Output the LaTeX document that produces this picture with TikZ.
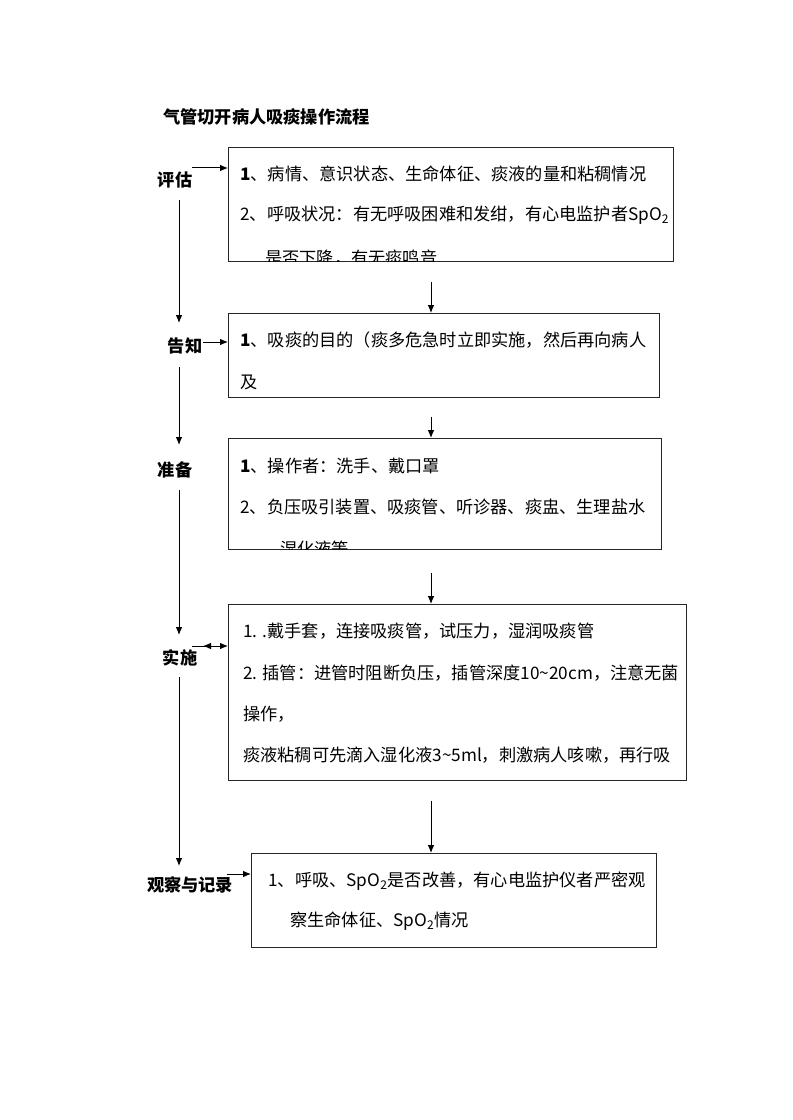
\documentclass[tikz,border=0pt]{standalone}
\usepackage{fontspec}
\setmainfont{Noto Sans CJK SC}
\usetikzlibrary{arrows,arrows.meta}

\tikzset{
  box/.style={draw=black!85, line width=0.9pt, anchor=north west, inner sep=0pt},
  txt/.style={anchor=west, inner sep=0pt, font=\fontsize{12.9pt}{14pt}\selectfont},
  lbl/.style={inner sep=0pt, font=\fontsize{12.9pt}{14pt}\selectfont\bfseries},
  flow/.style={line width=0.75pt, -{Latex[length=6pt,width=5pt]}}
}

\begin{document}
\begin{tikzpicture}[x=0.75pt,y=-0.75pt]
\useasboundingbox (0,0) rectangle (792,1120);

\draw (163,117) node (title) [lbl, anchor=west] {气管切开病人吸痰操作流程};

% boxes
\draw (228,147) node (b1) [box, minimum width=333.75pt, minimum height=85.5pt] {};
\draw (228,313) node (b2) [box, minimum width=323.25pt, minimum height=63pt] {};
\draw (228,438) node (b3) [box, minimum width=324.75pt, minimum height=83.25pt] {};
\draw (228,604) node (b4) [box, minimum width=343.5pt, minimum height=132pt] {};
\draw (251,853) node (b5) [box, minimum width=303.75pt, minimum height=70.5pt] {};

% left labels
\draw (175,180) node (l1) [lbl] {评估};
\draw (185,346) node (l2) [lbl] {告知};
\draw (175,470) node (l3) [lbl] {准备};
\draw (180,658) node (l4) [lbl] {实施};
\draw (190,885) node (l5) [lbl] {观察与记录};

% box texts
\draw (240,174) node (t11) [txt] {\textbf{1}、病情、意识状态、生命体征、痰液的量和粘稠情况};
\draw (240,215) node (t12) [txt] {2、呼吸状况：有无呼吸困难和发绀，有心电监护者SpO\textsubscript{2}};
\begin{scope}
\clip ([yshift=0.6pt]b1.south west) rectangle (b1.north east);
\draw (265,258) node (t13) [txt] {是否下降，有无痰鸣音};
\end{scope}

\draw (240,340) node (t21) [txt] {\textbf{1}、吸痰的目的（痰多危急时立即实施，然后再向病人};
\draw (240,382) node (t22) [txt] {及};

\draw (240,466) node (t31) [txt] {\textbf{1}、操作者：洗手、戴口罩};
\draw (240,507) node (t32) [txt] {2、负压吸引装置、吸痰管、听诊器、痰盅、生理盐水};
\begin{scope}
\clip ([yshift=0.6pt]b3.south west) rectangle (b3.north east);
\draw (280,549) node (t33) [txt] {湿化液等};
\end{scope}

\draw (243,631) node (t41) [txt] {1. .戴手套，连接吸痰管，试压力，湿润吸痰管};
\draw (243,673) node (t42) [txt] {2. 插管：进管时阻断负压，插管深度10\textasciitilde20cm，注意无菌};
\draw (243,714) node (t43) [txt] {操作，};
\draw (243,755) node (t44) [txt] {痰液粘稠可先滴入湿化液3\textasciitilde5ml，刺激病人咳嗽，再行吸};

\draw (268,881) node (t51) [txt] {1、呼吸、SpO\textsubscript{2}是否改善，有心电监护仪者严密观};
\draw (290,921) node (t52) [txt] {察生命体征、SpO\textsubscript{2}情况};

% arrows between boxes
\coordinate (a12) at (431,282);
\coordinate (a23) at (431,417);
\coordinate (a34) at (431,573);
\coordinate (a45) at (431,801);
\draw[flow] (a12) -- (a12 |- b2.north);
\draw[flow] (a23) -- (a23 |- b3.north);
\draw[flow] (a34) -- (a34 |- b4.north);
\draw[flow] (a45) -- (a45 |- b5.north);

% left column
\coordinate (v1) at (179,200);
\coordinate (v2) at (179,323);
\coordinate (v3) at (179,367);
\coordinate (v4) at (179,445);
\coordinate (v5) at (179,490);
\coordinate (v6) at (179,635);
\coordinate (v7) at (179,677);
\coordinate (v8) at (179,866);
\draw[flow] (v1) -- (v2);
\draw[flow] (v3) -- (v4);
\draw[flow] (v5) -- (v6);
\draw[flow] (v7) -- (v8);

% label to box
\coordinate (h1) at (192,168);
\coordinate (h2) at (203,342);
\coordinate (h4) at (192,646);
\coordinate (h5) at (227,874);
\draw[flow] (h1) -- (h1 -| b1.west);
\draw[flow] (h2) -- (h2 -| b2.west);
\draw[flow] (h4) -- (h4 -| b4.west);
\draw[line width=0.75pt, {Latex[length=6pt,width=5pt]}-] (203,646) -- +(10,0);
\draw[flow] (h5) -- (h5 -| b5.west);
\end{tikzpicture}
\end{document}
